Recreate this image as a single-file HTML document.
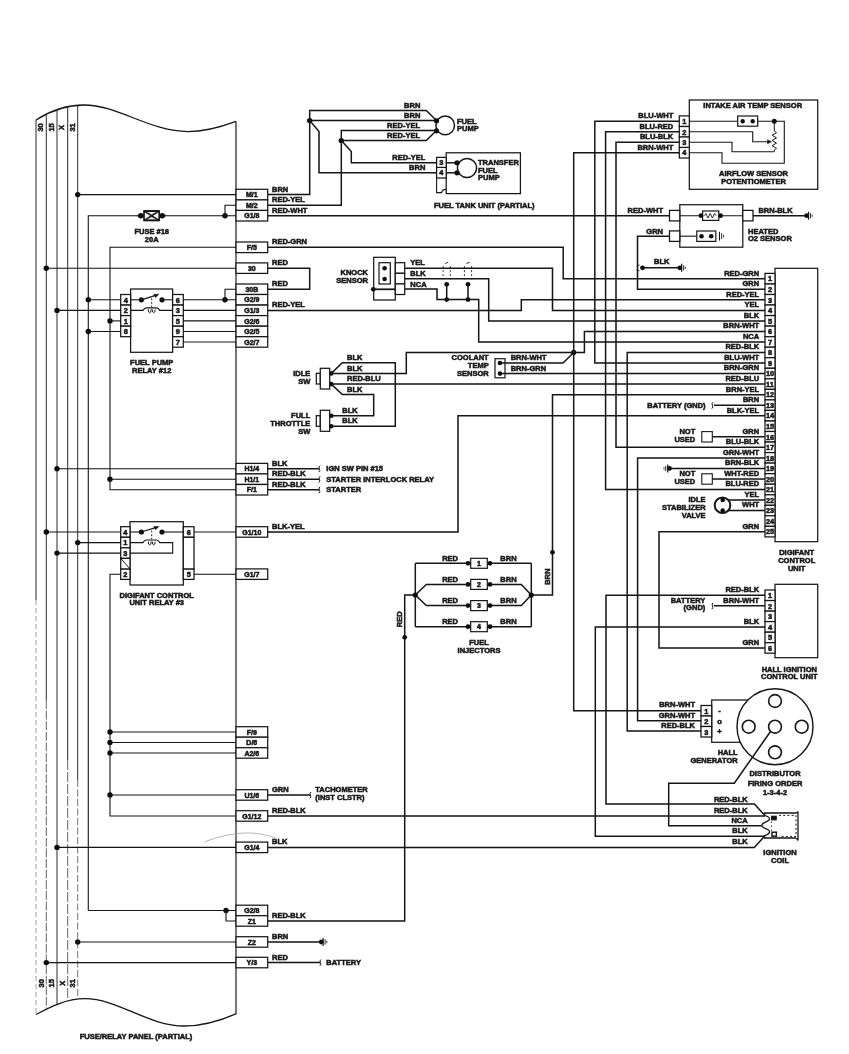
<!DOCTYPE html>
<html><head><meta charset="utf-8"><title>Wiring Diagram</title>
<style>
html,body{margin:0;padding:0;background:#fff;}
body{width:849px;height:1054px;overflow:hidden;}
svg{display:block;}
svg *{vector-effect:none;}
.d{stroke:#161616;fill:none;stroke-linejoin:miter;stroke-linecap:butt;}
.d text{font-family:"Liberation Sans",sans-serif;font-weight:bold;fill:#161616;stroke:#161616;stroke-width:0.5;}
.d .bus{stroke:#2a2a2a;}
</style></head><body>
<svg width="849" height="1054" viewBox="0 0 849 1054">
<rect width="849" height="1054" fill="#ffffff"/>
<defs><filter id="soft" x="0" y="0" width="849" height="1054" filterUnits="userSpaceOnUse"><feGaussianBlur stdDeviation="0.4"/></filter></defs>
<g class="d" filter="url(#soft)">
<path d="M36,120 C50,111 66,105 84,105 C118,105 150,131.6 188,131.6 C206,131.6 222,126.5 236,121.3" stroke-width="1.3" fill="none"/>
<path d="M36,1014.5 C50,1007 66,998.7 85,998.7 C118,998.7 148,1026 184,1026 C204,1026 222,1020 236.5,1013.6" stroke-width="1.3" fill="none"/>
<polyline points="36.0,120.0 36.0,600.0" stroke-width="1.0" class="bus"/>
<polyline points="36.0,600.0 36.0,1014.5" stroke-width="0.8" stroke="#8a8a8a" stroke-dasharray="5,3"/>
<polyline points="46.3,114.2 46.3,700.0" stroke-width="1.0" class="bus"/>
<polyline points="46.3,700.0 46.3,1009.2" stroke-width="0.9" stroke="#555" stroke-dasharray="9,1.6"/>
<polyline points="57.0,109.6 57.0,1004.4" stroke-width="1.0" class="bus"/>
<polyline points="67.7,106.7 67.7,760.0" stroke-width="1.0" class="bus"/>
<polyline points="67.7,760.0 67.7,1001.0" stroke-width="0.9" stroke="#555" stroke-dasharray="10,2"/>
<polyline points="77.7,105.3 77.7,780.0" stroke-width="1.0" class="bus"/>
<polyline points="77.7,780.0 77.7,999.1" stroke-width="0.9" stroke="#666" stroke-dasharray="7,2.5"/>
<polyline points="236.0,121.3 236.0,1013.8" stroke-width="1.15" />
<text transform="translate(40.6,127.4) rotate(-90) scale(1.06,1)" x="0" y="2.6" text-anchor="middle" font-size="7.1px">30</text>
<text transform="translate(41.0,983.2) rotate(-90) scale(1.06,1)" x="0" y="2.6" text-anchor="middle" font-size="7.1px">30</text>
<text transform="translate(50.9,127.4) rotate(-90) scale(1.06,1)" x="0" y="2.6" text-anchor="middle" font-size="7.1px">15</text>
<text transform="translate(51.3,983.2) rotate(-90) scale(1.06,1)" x="0" y="2.6" text-anchor="middle" font-size="7.1px">15</text>
<text transform="translate(61.6,127.4) rotate(-90) scale(1.06,1)" x="0" y="2.6" text-anchor="middle" font-size="7.1px">X</text>
<text transform="translate(62.0,983.2) rotate(-90) scale(1.06,1)" x="0" y="2.6" text-anchor="middle" font-size="7.1px">X</text>
<text transform="translate(72.0,127.4) rotate(-90) scale(1.06,1)" x="0" y="2.6" text-anchor="middle" font-size="7.1px">31</text>
<text transform="translate(72.4,983.2) rotate(-90) scale(1.06,1)" x="0" y="2.6" text-anchor="middle" font-size="7.1px">31</text>
<text transform="translate(136.0,1038.6) scale(1.06,1)" text-anchor="middle" font-size="7.1px">FUSE/RELAY PANEL (PARTIAL)</text>
<rect x="236.0" y="189.3" width="31.7" height="10.6" stroke-width="1.25" fill="#fff"/>
<text transform="translate(251.8,197.2) scale(1.06,1)" text-anchor="middle" font-size="6.6px">M/1</text>
<rect x="236.0" y="199.9" width="31.7" height="10.6" stroke-width="1.25" fill="#fff"/>
<text transform="translate(251.8,207.8) scale(1.06,1)" text-anchor="middle" font-size="6.6px">M/2</text>
<rect x="236.0" y="210.4" width="31.7" height="10.6" stroke-width="1.25" fill="#fff"/>
<text transform="translate(251.8,218.3) scale(1.06,1)" text-anchor="middle" font-size="6.6px">G1/8</text>
<rect x="236.0" y="242.0" width="31.7" height="10.6" stroke-width="1.25" fill="#fff"/>
<text transform="translate(251.8,249.9) scale(1.06,1)" text-anchor="middle" font-size="6.6px">F/5</text>
<rect x="236.0" y="262.9" width="31.7" height="10.5" stroke-width="1.25" fill="#fff"/>
<text transform="translate(251.8,270.8) scale(1.06,1)" text-anchor="middle" font-size="6.6px">30</text>
<rect x="236.0" y="284.0" width="31.7" height="10.5" stroke-width="1.25" fill="#fff"/>
<text transform="translate(251.8,291.9) scale(1.06,1)" text-anchor="middle" font-size="6.6px">30B</text>
<rect x="236.0" y="294.5" width="31.7" height="10.5" stroke-width="1.25" fill="#fff"/>
<text transform="translate(251.8,302.4) scale(1.06,1)" text-anchor="middle" font-size="6.6px">G2/9</text>
<rect x="236.0" y="305.1" width="31.7" height="10.5" stroke-width="1.25" fill="#fff"/>
<text transform="translate(251.8,313.0) scale(1.06,1)" text-anchor="middle" font-size="6.6px">G1/3</text>
<rect x="236.0" y="315.6" width="31.7" height="10.5" stroke-width="1.25" fill="#fff"/>
<text transform="translate(251.8,323.5) scale(1.06,1)" text-anchor="middle" font-size="6.6px">G2/6</text>
<rect x="236.0" y="326.2" width="31.7" height="10.5" stroke-width="1.25" fill="#fff"/>
<text transform="translate(251.8,334.1) scale(1.06,1)" text-anchor="middle" font-size="6.6px">G2/5</text>
<rect x="236.0" y="336.7" width="31.7" height="10.5" stroke-width="1.25" fill="#fff"/>
<text transform="translate(251.8,344.6) scale(1.06,1)" text-anchor="middle" font-size="6.6px">G2/7</text>
<rect x="236.0" y="463.4" width="31.7" height="10.5" stroke-width="1.25" fill="#fff"/>
<text transform="translate(251.8,471.3) scale(1.06,1)" text-anchor="middle" font-size="6.6px">H1/4</text>
<rect x="236.0" y="473.9" width="31.7" height="10.5" stroke-width="1.25" fill="#fff"/>
<text transform="translate(251.8,481.8) scale(1.06,1)" text-anchor="middle" font-size="6.6px">H1/1</text>
<rect x="236.0" y="484.5" width="31.7" height="10.5" stroke-width="1.25" fill="#fff"/>
<text transform="translate(251.8,492.4) scale(1.06,1)" text-anchor="middle" font-size="6.6px">F/1</text>
<rect x="236.0" y="526.7" width="31.7" height="10.5" stroke-width="1.25" fill="#fff"/>
<text transform="translate(251.8,534.6) scale(1.06,1)" text-anchor="middle" font-size="6.6px">G1/10</text>
<rect x="236.0" y="568.9" width="31.7" height="10.5" stroke-width="1.25" fill="#fff"/>
<text transform="translate(251.8,576.8) scale(1.06,1)" text-anchor="middle" font-size="6.6px">G1/7</text>
<rect x="236.0" y="726.7" width="31.7" height="10.5" stroke-width="1.25" fill="#fff"/>
<text transform="translate(251.8,734.6) scale(1.06,1)" text-anchor="middle" font-size="6.6px">F/9</text>
<rect x="236.0" y="737.2" width="31.7" height="10.5" stroke-width="1.25" fill="#fff"/>
<text transform="translate(251.8,745.1) scale(1.06,1)" text-anchor="middle" font-size="6.6px">D/6</text>
<rect x="236.0" y="747.7" width="31.7" height="10.5" stroke-width="1.25" fill="#fff"/>
<text transform="translate(251.8,755.6) scale(1.06,1)" text-anchor="middle" font-size="6.6px">A2/6</text>
<rect x="236.0" y="789.7" width="31.7" height="10.5" stroke-width="1.25" fill="#fff"/>
<text transform="translate(251.8,797.6) scale(1.06,1)" text-anchor="middle" font-size="6.6px">U1/6</text>
<rect x="236.0" y="810.7" width="31.7" height="10.5" stroke-width="1.25" fill="#fff"/>
<text transform="translate(251.8,818.6) scale(1.06,1)" text-anchor="middle" font-size="6.6px">G1/12</text>
<rect x="236.0" y="842.1" width="31.7" height="10.5" stroke-width="1.25" fill="#fff"/>
<text transform="translate(251.8,850.0) scale(1.06,1)" text-anchor="middle" font-size="6.6px">G1/4</text>
<rect x="236.0" y="905.2" width="31.7" height="10.5" stroke-width="1.25" fill="#fff"/>
<text transform="translate(251.8,913.1) scale(1.06,1)" text-anchor="middle" font-size="6.6px">G2/8</text>
<rect x="236.0" y="915.7" width="31.7" height="10.5" stroke-width="1.25" fill="#fff"/>
<text transform="translate(251.8,923.6) scale(1.06,1)" text-anchor="middle" font-size="6.6px">Z1</text>
<rect x="236.0" y="936.7" width="31.7" height="10.5" stroke-width="1.25" fill="#fff"/>
<text transform="translate(251.8,944.6) scale(1.06,1)" text-anchor="middle" font-size="6.6px">Z2</text>
<rect x="236.0" y="957.3" width="31.7" height="10.5" stroke-width="1.25" fill="#fff"/>
<text transform="translate(251.8,965.2) scale(1.06,1)" text-anchor="middle" font-size="6.6px">Y/3</text>
<polyline points="77.7,194.6 236.0,194.6" stroke-width="1.1" />
<circle cx="77.7" cy="194.6" r="2.7" fill="#111" stroke="none"/>
<polyline points="88.3,910.5 88.3,215.7 236.0,215.7" stroke-width="1.1" />
<circle cx="225.0" cy="215.7" r="2.7" fill="#111" stroke="none"/>
<polyline points="225.0,215.7 225.0,205.2 236.0,205.2" stroke-width="1.1" />
<polyline points="137.6,215.7 165.6,215.7" stroke-width="1.8" />
<rect x="144.0" y="211.1" width="15.2" height="9.2" stroke-width="1.7" fill="#fff"/>
<path d="M144.0,211.1 L159.2,220.29999999999998 M144.0,220.29999999999998 L159.2,211.1" stroke-width="1.5" fill="none"/>
<path d="M144.0,211.1 L151.6,214.5 L159.2,211.1 Z M144.0,220.29999999999998 L151.6,216.89999999999998 L159.2,220.29999999999998 Z" stroke-width="0.6" fill="#fff"/>
<polyline points="144.0,211.1 159.2,211.1" stroke-width="1.9" />
<polyline points="144.0,220.3 159.2,220.3" stroke-width="1.9" />
<circle cx="140.8" cy="215.7" r="2.7" fill="#111" stroke="none"/>
<circle cx="162.2" cy="215.7" r="2.7" fill="#111" stroke="none"/>
<text transform="translate(151.7,234.3) scale(1.06,1)" text-anchor="middle" font-size="7.1px">FUSE #18</text>
<text transform="translate(151.7,242.1) scale(1.06,1)" text-anchor="middle" font-size="7.1px">20A</text>
<polyline points="236.0,247.3 110.0,247.3 110.0,489.8 236.0,489.8" stroke-width="1.1" />
<polyline points="46.3,268.2 236.0,268.2" stroke-width="1.1" />
<circle cx="46.3" cy="268.2" r="2.7" fill="#111" stroke="none"/>
<rect x="130.6" y="289.0" width="42.0" height="63.3" stroke-width="1.25" fill="#fff"/>
<rect x="120.7" y="294.5" width="9.9" height="10.5" stroke-width="1.25" fill="#fff"/>
<text transform="translate(125.7,302.5) scale(1.06,1)" text-anchor="middle" font-size="7.0px">4</text>
<rect x="120.7" y="305.1" width="9.9" height="10.5" stroke-width="1.25" fill="#fff"/>
<text transform="translate(125.7,313.1) scale(1.06,1)" text-anchor="middle" font-size="7.0px">2</text>
<rect x="120.7" y="315.6" width="9.9" height="10.5" stroke-width="1.25" fill="#fff"/>
<text transform="translate(125.7,323.6) scale(1.06,1)" text-anchor="middle" font-size="7.0px">1</text>
<rect x="120.7" y="326.2" width="9.9" height="10.5" stroke-width="1.25" fill="#fff"/>
<text transform="translate(125.7,334.2) scale(1.06,1)" text-anchor="middle" font-size="7.0px">8</text>
<rect x="172.6" y="294.5" width="10.7" height="10.5" stroke-width="1.25" fill="#fff"/>
<text transform="translate(177.9,302.5) scale(1.06,1)" text-anchor="middle" font-size="7.0px">6</text>
<rect x="172.6" y="305.1" width="10.7" height="10.5" stroke-width="1.25" fill="#fff"/>
<text transform="translate(177.9,313.1) scale(1.06,1)" text-anchor="middle" font-size="7.0px">3</text>
<rect x="172.6" y="315.6" width="10.7" height="10.5" stroke-width="1.25" fill="#fff"/>
<text transform="translate(177.9,323.6) scale(1.06,1)" text-anchor="middle" font-size="7.0px">5</text>
<rect x="172.6" y="326.2" width="10.7" height="10.5" stroke-width="1.25" fill="#fff"/>
<text transform="translate(177.9,334.2) scale(1.06,1)" text-anchor="middle" font-size="7.0px">9</text>
<rect x="172.6" y="336.7" width="10.7" height="10.5" stroke-width="1.25" fill="#fff"/>
<text transform="translate(177.9,344.7) scale(1.06,1)" text-anchor="middle" font-size="7.0px">7</text>
<polyline points="88.3,299.8 120.7,299.8" stroke-width="1.1" />
<circle cx="88.3" cy="299.8" r="2.7" fill="#111" stroke="none"/>
<polyline points="57.0,310.4 120.7,310.4" stroke-width="1.1" />
<circle cx="57.0" cy="310.4" r="2.7" fill="#111" stroke="none"/>
<polyline points="110.0,320.9 120.7,320.9" stroke-width="1.1" />
<circle cx="110.0" cy="320.9" r="2.7" fill="#111" stroke="none"/>
<polyline points="88.3,331.5 120.7,331.5" stroke-width="1.1" />
<circle cx="88.3" cy="331.5" r="2.7" fill="#111" stroke="none"/>
<polyline points="183.3,299.8 236.0,299.8" stroke-width="1.1" />
<circle cx="225.0" cy="299.8" r="2.7" fill="#111" stroke="none"/>
<polyline points="225.0,299.8 225.0,289.3 236.0,289.3" stroke-width="1.1" />
<polyline points="183.3,310.4 236.0,310.4" stroke-width="1.1" />
<polyline points="183.3,320.9 236.0,320.9" stroke-width="1.1" />
<polyline points="183.3,331.5 236.0,331.5" stroke-width="1.1" />
<polyline points="183.3,342.0 236.0,342.0" stroke-width="1.1" />
<polyline points="130.6,299.8 141.4,299.8" stroke-width="1.1" />
<circle cx="141.4" cy="299.8" r="2.6" fill="#111" stroke="none"/>
<circle cx="162.0" cy="299.8" r="2.6" fill="#111" stroke="none"/>
<polyline points="162.0,299.8 172.6,299.8" stroke-width="1.1" />
<polyline points="141.4,299.8 155.5,295.4" stroke-width="1.3" />
<path d="M158.8,294.2 l-5,0.2 l1.8,3.2 z" stroke-width="0.6" fill="#111"/>
<polyline points="151.7,298.3 151.7,307.3" stroke-width="0.9" stroke-dasharray="2,1.6"/>
<path d="M130.6,310.4 L143,310.4 Q144.6,307.79999999999995 146.2,307.79999999999995 L156.6,307.79999999999995 Q158.2,307.79999999999995 159.8,310.4 L172.6,310.4" stroke-width="1.2" fill="none"/>
<path d="M148.2,309.4 q0.2,3.4 1.5,3.4 q1.3,0 1.5,-3.4 M152.2,309.4 q0.2,3.4 1.5,3.4 q1.3,0 1.5,-3.4" stroke-width="1.0" fill="none"/>
<text transform="translate(151.7,365.1) scale(1.06,1)" text-anchor="middle" font-size="7.1px">FUEL PUMP</text>
<text transform="translate(151.7,372.9) scale(1.06,1)" text-anchor="middle" font-size="7.1px">RELAY #12</text>
<polyline points="57.0,468.7 236.0,468.7" stroke-width="1.1" />
<circle cx="57.0" cy="468.7" r="2.7" fill="#111" stroke="none"/>
<polyline points="110.0,479.2 236.0,479.2" stroke-width="1.1" />
<circle cx="110.0" cy="479.2" r="2.7" fill="#111" stroke="none"/>
<rect x="130.0" y="521.7" width="53.3" height="63.3" stroke-width="1.25" fill="#fff"/>
<rect x="120.7" y="526.7" width="9.3" height="10.5" stroke-width="1.25" fill="#fff"/>
<text transform="translate(125.3,534.7) scale(1.06,1)" text-anchor="middle" font-size="7.0px">4</text>
<rect x="120.7" y="537.3" width="9.3" height="10.5" stroke-width="1.25" fill="#fff"/>
<text transform="translate(125.3,545.3) scale(1.06,1)" text-anchor="middle" font-size="7.0px">1</text>
<rect x="120.7" y="547.8" width="9.3" height="10.5" stroke-width="1.25" fill="#fff"/>
<text transform="translate(125.3,555.8) scale(1.06,1)" text-anchor="middle" font-size="7.0px">3</text>
<rect x="120.7" y="568.9" width="9.3" height="10.5" stroke-width="1.25" fill="#fff"/>
<text transform="translate(125.3,576.9) scale(1.06,1)" text-anchor="middle" font-size="7.0px">2</text>
<rect x="120.7" y="558.4" width="9.3" height="10.5" stroke-width="1.25" fill="#fff"/>
<polyline points="120.7,558.4 130.0,568.9" stroke-width="1.0" />
<rect x="183.3" y="526.7" width="10.7" height="10.5" stroke-width="1.25" fill="#fff"/>
<text transform="translate(188.7,534.7) scale(1.06,1)" text-anchor="middle" font-size="7.0px">6</text>
<rect x="183.3" y="568.9" width="10.7" height="10.5" stroke-width="1.25" fill="#fff"/>
<text transform="translate(188.7,576.9) scale(1.06,1)" text-anchor="middle" font-size="7.0px">5</text>
<rect x="183.3" y="537.3" width="10.7" height="31.6" stroke-width="1.25" fill="#fff"/>
<polyline points="46.3,532.0 120.7,532.0" stroke-width="1.1" />
<circle cx="46.3" cy="532.0" r="2.7" fill="#111" stroke="none"/>
<polyline points="77.7,542.6 120.7,542.6" stroke-width="1.1" />
<circle cx="77.7" cy="542.6" r="2.7" fill="#111" stroke="none"/>
<polyline points="57.0,553.1 120.7,553.1" stroke-width="1.1" />
<circle cx="57.0" cy="553.1" r="2.7" fill="#111" stroke="none"/>
<polyline points="120.7,574.2 110.0,574.2 110.0,816.0 236.0,816.0" stroke-width="1.1" />
<polyline points="194.0,532.0 236.0,532.0" stroke-width="1.1" />
<polyline points="194.0,574.2 236.0,574.2" stroke-width="1.1" />
<polyline points="130.0,532.0 141.4,532.0" stroke-width="1.1" />
<circle cx="141.4" cy="532.0" r="2.6" fill="#111" stroke="none"/>
<circle cx="162.0" cy="532.0" r="2.6" fill="#111" stroke="none"/>
<polyline points="162.0,532.0 183.3,532.0" stroke-width="1.1" />
<polyline points="141.4,532.0 155.5,527.6" stroke-width="1.3" />
<path d="M158.8,526.4 l-5,0.2 l1.8,3.2 z" stroke-width="0.6" fill="#111"/>
<polyline points="151.7,530.5 151.7,539.5" stroke-width="0.9" stroke-dasharray="2,1.6"/>
<path d="M130,542.6 L143,542.6 Q144.6,540.0 146.2,540.0 L156.6,540.0 Q158.2,540.0 159.8,542.6 L172.7,542.6" stroke-width="1.2" fill="none"/>
<path d="M148.2,541.6 q0.2,3.4 1.5,3.4 q1.3,0 1.5,-3.4 M152.2,541.6 q0.2,3.4 1.5,3.4 q1.3,0 1.5,-3.4" stroke-width="1.0" fill="none"/>
<polyline points="172.0,542.6 172.7,542.6 172.7,553.1 130.0,553.1" stroke-width="1.1" />
<text transform="translate(156.7,597.6) scale(1.06,1)" text-anchor="middle" font-size="7.1px">DIGIFANT CONTROL</text>
<text transform="translate(156.7,605.4) scale(1.06,1)" text-anchor="middle" font-size="7.1px">UNIT RELAY #3</text>
<polyline points="110.0,732.0 236.0,732.0" stroke-width="1.1" />
<circle cx="110.0" cy="732.0" r="2.7" fill="#111" stroke="none"/>
<polyline points="110.0,742.5 236.0,742.5" stroke-width="1.1" />
<circle cx="110.0" cy="742.5" r="2.7" fill="#111" stroke="none"/>
<polyline points="110.0,753.0 236.0,753.0" stroke-width="1.1" />
<circle cx="110.0" cy="753.0" r="2.7" fill="#111" stroke="none"/>
<polyline points="110.0,795.0 236.0,795.0" stroke-width="1.1" />
<circle cx="110.0" cy="795.0" r="2.7" fill="#111" stroke="none"/>
<polyline points="57.0,847.4 236.0,847.4" stroke-width="1.1" />
<circle cx="57.0" cy="847.4" r="2.7" fill="#111" stroke="none"/>
<polyline points="88.3,910.5 236.0,910.5" stroke-width="1.1" />
<circle cx="226.0" cy="910.5" r="2.7" fill="#111" stroke="none"/>
<polyline points="226.0,910.5 226.0,921.0 236.0,921.0" stroke-width="1.1" />
<polyline points="77.7,942.0 236.0,942.0" stroke-width="1.1" />
<circle cx="77.7" cy="942.0" r="2.7" fill="#111" stroke="none"/>
<polyline points="46.3,962.6 236.0,962.6" stroke-width="1.1" />
<circle cx="46.3" cy="962.6" r="2.7" fill="#111" stroke="none"/>
<path d="M205,841.7 Q246,826 277,838.5" stroke="#999" stroke-width="0.7" fill="none"/>
<text transform="translate(272.0,191.6) scale(1.06,1)" text-anchor="start" font-size="7.1px">BRN</text>
<text transform="translate(272.0,202.2) scale(1.06,1)" text-anchor="start" font-size="7.1px">RED-YEL</text>
<text transform="translate(272.0,212.7) scale(1.06,1)" text-anchor="start" font-size="7.1px">RED-WHT</text>
<text transform="translate(272.0,244.3) scale(1.06,1)" text-anchor="start" font-size="7.1px">RED-GRN</text>
<text transform="translate(272.0,265.2) scale(1.06,1)" text-anchor="start" font-size="7.1px">RED</text>
<text transform="translate(272.0,286.3) scale(1.06,1)" text-anchor="start" font-size="7.1px">RED</text>
<text transform="translate(272.0,307.4) scale(1.06,1)" text-anchor="start" font-size="7.1px">RED-YEL</text>
<text transform="translate(272.0,465.7) scale(1.06,1)" text-anchor="start" font-size="7.1px">BLK</text>
<text transform="translate(272.0,476.2) scale(1.06,1)" text-anchor="start" font-size="7.1px">RED-BLK</text>
<text transform="translate(272.0,486.8) scale(1.06,1)" text-anchor="start" font-size="7.1px">RED-BLK</text>
<text transform="translate(272.0,529.0) scale(1.06,1)" text-anchor="start" font-size="7.1px">BLK-YEL</text>
<text transform="translate(272.0,792.0) scale(1.06,1)" text-anchor="start" font-size="7.1px">GRN</text>
<text transform="translate(272.0,813.0) scale(1.06,1)" text-anchor="start" font-size="7.1px">RED-BLK</text>
<text transform="translate(272.0,844.4) scale(1.06,1)" text-anchor="start" font-size="7.1px">BLK</text>
<text transform="translate(272.0,918.0) scale(1.06,1)" text-anchor="start" font-size="7.1px">RED-BLK</text>
<text transform="translate(272.0,939.0) scale(1.06,1)" text-anchor="start" font-size="7.1px">BRN</text>
<text transform="translate(272.0,959.6) scale(1.06,1)" text-anchor="start" font-size="7.1px">RED</text>
<polyline points="267.7,194.6 309.7,194.6 309.7,110.5 426.3,110.5 436.0,120.0" stroke-width="1.5" />
<polyline points="309.7,120.6 436.0,120.6" stroke-width="1.5" />
<circle cx="309.7" cy="120.6" r="2.7" fill="#111" stroke="none"/>
<polyline points="309.7,120.6 319.0,131.5 319.0,172.8 437.0,172.8" stroke-width="1.5" />
<polyline points="267.7,205.2 341.3,205.2 341.3,130.5 436.0,130.5" stroke-width="1.5" />
<polyline points="341.3,140.6 426.3,140.6 436.0,131.0" stroke-width="1.5" />
<circle cx="341.3" cy="140.6" r="2.7" fill="#111" stroke="none"/>
<polyline points="341.3,140.6 351.3,151.5 351.3,162.8 437.0,162.8" stroke-width="1.5" />
<circle cx="445.2" cy="125.4" r="9.3" stroke-width="1.5" fill="#fff"/>
<circle cx="436.5" cy="120.8" r="2.6" fill="#111" stroke="none"/>
<circle cx="436.5" cy="130.8" r="2.6" fill="#111" stroke="none"/>
<text transform="translate(457.0,123.6) scale(1.06,1)" text-anchor="start" font-size="7.1px">FUEL</text>
<text transform="translate(457.0,131.1) scale(1.06,1)" text-anchor="start" font-size="7.1px">PUMP</text>
<text transform="translate(420.3,107.8) scale(1.06,1)" text-anchor="end" font-size="7.1px">BRN</text>
<text transform="translate(420.3,117.9) scale(1.06,1)" text-anchor="end" font-size="7.1px">BRN</text>
<text transform="translate(420.0,128.0) scale(1.06,1)" text-anchor="end" font-size="7.1px">RED-YEL</text>
<text transform="translate(420.0,138.2) scale(1.06,1)" text-anchor="end" font-size="7.1px">RED-YEL</text>
<text transform="translate(425.3,160.0) scale(1.06,1)" text-anchor="end" font-size="7.1px">RED-YEL</text>
<text transform="translate(425.3,170.4) scale(1.06,1)" text-anchor="end" font-size="7.1px">BRN</text>
<rect x="446.2" y="152.8" width="74.2" height="40.8" stroke-width="1.25" fill="#fff"/>
<rect x="436.6" y="157.4" width="9.6" height="10.6" stroke-width="1.25" fill="#fff"/>
<text transform="translate(441.4,165.4) scale(1.06,1)" text-anchor="middle" font-size="7.0px">3</text>
<rect x="436.6" y="167.4" width="9.6" height="10.6" stroke-width="1.25" fill="#fff"/>
<text transform="translate(441.4,175.4) scale(1.06,1)" text-anchor="middle" font-size="7.0px">4</text>
<path d="M436.6,178 L436.6,192.6 L441.6,192.6 Q442.2,189 446.2,189.4" stroke-width="1.1" fill="#fff"/>
<circle cx="467.0" cy="168.0" r="9.6" stroke-width="1.5" fill="#fff"/>
<polyline points="446.2,162.8 457.0,162.8" stroke-width="1.5" />
<polyline points="446.2,172.8 457.0,172.8" stroke-width="1.5" />
<circle cx="457.0" cy="162.8" r="2.6" fill="#111" stroke="none"/>
<circle cx="457.0" cy="172.8" r="2.6" fill="#111" stroke="none"/>
<text transform="translate(478.0,165.3) scale(1.06,1)" text-anchor="start" font-size="7.1px">TRANSFER</text>
<text transform="translate(478.0,172.8) scale(1.06,1)" text-anchor="start" font-size="7.1px">FUEL</text>
<text transform="translate(478.0,180.4) scale(1.06,1)" text-anchor="start" font-size="7.1px">PUMP</text>
<text transform="translate(434.0,207.6) scale(1.06,1)" text-anchor="start" font-size="7.1px">FUEL TANK UNIT (PARTIAL)</text>
<polyline points="267.7,215.7 669.5,215.7" stroke-width="1.5" />
<polyline points="267.7,247.3 563.2,247.3 563.2,278.7 765.0,278.7" stroke-width="1.5" />
<polyline points="267.7,268.2 309.7,268.2 309.7,289.3 267.7,289.3" stroke-width="1.5" />
<polyline points="267.7,310.4 521.3,310.4 521.3,299.7 765.0,299.7" stroke-width="1.5" />
<rect x="373.7" y="257.3" width="21.6" height="32.2" stroke-width="1.25" fill="#fff"/>
<rect x="373.7" y="289.5" width="21.6" height="10.5" stroke-width="1.25" fill="#fff"/>
<rect x="379.0" y="262.7" width="11.3" height="21.3" stroke-width="1.2" fill="#fff"/>
<circle cx="384.6" cy="268.3" r="2.3" fill="#111" stroke="none"/>
<circle cx="384.6" cy="279.0" r="2.3" fill="#111" stroke="none"/>
<rect x="395.3" y="262.7" width="9.4" height="10.6" stroke-width="1.25" fill="#fff"/>
<rect x="395.3" y="273.3" width="9.4" height="10.6" stroke-width="1.25" fill="#fff"/>
<rect x="395.3" y="283.9" width="9.4" height="10.6" stroke-width="1.25" fill="#fff"/>
<circle cx="373.3" cy="289.3" r="2.4" fill="#111" stroke="none"/>
<polyline points="373.3,289.3 395.3,289.3" stroke-width="1.5" />
<text transform="translate(368.0,275.3) scale(1.06,1)" text-anchor="end" font-size="7.1px">KNOCK</text>
<text transform="translate(368.0,283.2) scale(1.06,1)" text-anchor="end" font-size="7.1px">SENSOR</text>
<text transform="translate(410.3,265.3) scale(1.06,1)" text-anchor="start" font-size="7.1px">YEL</text>
<text transform="translate(410.3,275.9) scale(1.06,1)" text-anchor="start" font-size="7.1px">BLK</text>
<text transform="translate(410.3,286.6) scale(1.06,1)" text-anchor="start" font-size="7.1px">NCA</text>
<polyline points="404.7,268.2 552.5,268.2 552.5,310.4 765.0,310.4" stroke-width="1.5" />
<polyline points="404.7,278.7 488.7,278.7 488.7,321.0 765.0,321.0" stroke-width="1.5" />
<polyline points="404.7,289.0 437.0,289.0 437.0,299.6 478.7,299.6 478.7,342.0 765.0,342.0" stroke-width="1.5" />
<circle cx="446.7" cy="284.3" r="2.4" fill="#111" stroke="none"/>
<circle cx="446.7" cy="299.6" r="2.4" fill="#111" stroke="none"/>
<polyline points="446.7,284.3 446.7,299.6" stroke-width="1.5" />
<polyline points="443.1,266.0 443.1,279.5" stroke-width="0.8" stroke-dasharray="2.2,1.8"/>
<polyline points="450.3,266.0 450.3,279.5" stroke-width="0.8" stroke-dasharray="2.2,1.8"/>
<polyline points="445.2,263.5 448.2,262.3" stroke-width="0.9" />
<circle cx="468.0" cy="284.3" r="2.4" fill="#111" stroke="none"/>
<circle cx="468.0" cy="299.6" r="2.4" fill="#111" stroke="none"/>
<polyline points="468.0,284.3 468.0,299.6" stroke-width="1.5" />
<polyline points="464.4,266.0 464.4,279.5" stroke-width="0.8" stroke-dasharray="2.2,1.8"/>
<polyline points="471.6,266.0 471.6,279.5" stroke-width="0.8" stroke-dasharray="2.2,1.8"/>
<polyline points="466.5,263.5 469.5,262.3" stroke-width="0.9" />
<rect x="316.3" y="373.3" width="4.0" height="10.7" stroke-width="1.25" fill="#fff"/>
<rect x="320.3" y="368.3" width="9.4" height="20.7" stroke-width="1.25" fill="#fff"/>
<rect x="316.3" y="415.7" width="4.0" height="10.6" stroke-width="1.25" fill="#fff"/>
<rect x="320.3" y="410.3" width="9.4" height="21.0" stroke-width="1.25" fill="#fff"/>
<text transform="translate(310.3,376.1) scale(1.06,1)" text-anchor="end" font-size="7.1px">IDLE</text>
<text transform="translate(310.3,383.8) scale(1.06,1)" text-anchor="end" font-size="7.1px">SW</text>
<text transform="translate(310.3,418.3) scale(1.06,1)" text-anchor="end" font-size="7.1px">FULL</text>
<text transform="translate(310.3,426.0) scale(1.06,1)" text-anchor="end" font-size="7.1px">THROTTLE</text>
<text transform="translate(310.3,433.8) scale(1.06,1)" text-anchor="end" font-size="7.1px">SW</text>
<circle cx="331.3" cy="373.4" r="2.3" fill="#111" stroke="none"/>
<circle cx="331.3" cy="384.1" r="2.3" fill="#111" stroke="none"/>
<circle cx="331.3" cy="415.7" r="2.3" fill="#111" stroke="none"/>
<circle cx="331.3" cy="426.2" r="2.3" fill="#111" stroke="none"/>
<polyline points="331.3,373.4 342.3,362.8 395.3,362.8 395.3,426.2 331.3,426.2" stroke-width="1.5" />
<polyline points="331.3,373.4 406.3,373.4 406.3,352.4 573.7,352.4" stroke-width="1.5" />
<polyline points="331.3,384.1 765.0,384.1" stroke-width="1.5" />
<polyline points="331.3,384.1 342.3,394.5 373.7,394.5 373.7,415.7 331.3,415.7" stroke-width="1.5" />
<text transform="translate(347.0,360.3) scale(1.06,1)" text-anchor="start" font-size="7.1px">BLK</text>
<text transform="translate(347.0,370.9) scale(1.06,1)" text-anchor="start" font-size="7.1px">BLK</text>
<text transform="translate(347.0,381.2) scale(1.06,1)" text-anchor="start" font-size="7.1px">RED-BLU</text>
<text transform="translate(347.0,391.8) scale(1.06,1)" text-anchor="start" font-size="7.1px">BLK</text>
<text transform="translate(342.3,412.8) scale(1.06,1)" text-anchor="start" font-size="7.1px">BLK</text>
<text transform="translate(342.3,423.4) scale(1.06,1)" text-anchor="start" font-size="7.1px">BLK</text>
<rect x="495.0" y="358.7" width="10.0" height="19.1" stroke-width="1.2" fill="#fff"/>
<circle cx="500.0" cy="363.0" r="2.3" fill="#111" stroke="none"/>
<circle cx="500.0" cy="373.6" r="2.3" fill="#111" stroke="none"/>
<text transform="translate(488.7,360.1) scale(1.06,1)" text-anchor="end" font-size="7.1px">COOLANT</text>
<text transform="translate(488.7,367.9) scale(1.06,1)" text-anchor="end" font-size="7.1px">TEMP</text>
<text transform="translate(488.7,375.8) scale(1.06,1)" text-anchor="end" font-size="7.1px">SENSOR</text>
<text transform="translate(510.7,360.1) scale(1.06,1)" text-anchor="start" font-size="7.1px">BRN-WHT</text>
<text transform="translate(510.7,371.2) scale(1.06,1)" text-anchor="start" font-size="7.1px">BRN-GRN</text>
<polyline points="500.0,363.0 563.0,363.0 573.7,352.4 584.4,352.4 584.4,331.5 765.0,331.5" stroke-width="1.5" />
<circle cx="573.7" cy="352.4" r="2.6" fill="#111" stroke="none"/>
<polyline points="500.0,373.6 765.0,373.6" stroke-width="1.5" />
<polyline points="267.7,468.7 319.0,468.7" stroke-width="1.5" />
<path d="M320.0,465.7 q-1.6,1 -0.6,3 q1.2,2 -0.6,3.4" stroke-width="1.0" fill="none"/>
<text transform="translate(326.3,471.3) scale(1.06,1)" text-anchor="start" font-size="7.1px">IGN SW PIN #15</text>
<polyline points="267.7,479.2 319.0,479.2" stroke-width="1.5" />
<path d="M320.0,476.2 q-1.6,1 -0.6,3 q1.2,2 -0.6,3.4" stroke-width="1.0" fill="none"/>
<text transform="translate(326.3,481.8) scale(1.06,1)" text-anchor="start" font-size="7.1px">STARTER INTERLOCK RELAY</text>
<polyline points="267.7,489.8 319.0,489.8" stroke-width="1.5" />
<path d="M320.0,486.8 q-1.6,1 -0.6,3 q1.2,2 -0.6,3.4" stroke-width="1.0" fill="none"/>
<text transform="translate(326.3,492.4) scale(1.06,1)" text-anchor="start" font-size="7.1px">STARTER</text>
<polyline points="267.7,532.0 458.0,532.0 458.0,415.7 765.0,415.7" stroke-width="1.5" />
<polyline points="267.7,795.0 310.0,795.0" stroke-width="1.5" />
<path d="M311.0,792.0 q-1.6,1 -0.6,3 q1.2,2 -0.6,3.4" stroke-width="1.0" fill="none"/>
<text transform="translate(315.3,791.8) scale(1.06,1)" text-anchor="start" font-size="7.1px">TACHOMETER</text>
<text transform="translate(315.3,799.5) scale(1.06,1)" text-anchor="start" font-size="7.1px">(INST CLSTR)</text>
<polyline points="267.7,816.0 765.0,816.0" stroke-width="1.5" />
<polyline points="267.7,847.4 754.3,847.4 764.5,836.3" stroke-width="1.5" />
<polyline points="267.7,921.0 404.7,921.0 404.7,595.0 415.3,595.0" stroke-width="1.5" />
<circle cx="404.7" cy="637.3" r="2.4" fill="#111" stroke="none"/>
<text transform="translate(399.5,619.3) rotate(-90) scale(1.06,1)" x="0" y="2.6" text-anchor="middle" font-size="7.1px">RED</text>
<polyline points="267.7,942.0 321.3,942.0" stroke-width="1.5" />
<circle cx="321.3" cy="942.0" r="2.4" fill="#111" stroke="none"/>
<polyline points="323.1,938.0 323.1,946.0" stroke-width="1.2" />
<polyline points="325.1,939.4 325.1,944.6" stroke-width="0.9" />
<polyline points="326.8,940.8 326.8,943.2" stroke-width="0.8" />
<polyline points="267.7,962.6 320.0,962.6" stroke-width="1.5" />
<path d="M321.0,959.6 q-1.6,1 -0.6,3 q1.2,2 -0.6,3.4" stroke-width="1.0" fill="none"/>
<text transform="translate(326.3,965.2) scale(1.06,1)" text-anchor="start" font-size="7.1px">BATTERY</text>
<text transform="translate(458.0,560.6) scale(1.06,1)" text-anchor="end" font-size="7.1px">RED</text>
<text transform="translate(500.3,560.6) scale(1.06,1)" text-anchor="start" font-size="7.1px">BRN</text>
<text transform="translate(458.0,581.7) scale(1.06,1)" text-anchor="end" font-size="7.1px">RED</text>
<text transform="translate(500.3,581.7) scale(1.06,1)" text-anchor="start" font-size="7.1px">BRN</text>
<text transform="translate(458.0,602.9) scale(1.06,1)" text-anchor="end" font-size="7.1px">RED</text>
<text transform="translate(500.3,602.9) scale(1.06,1)" text-anchor="start" font-size="7.1px">BRN</text>
<text transform="translate(458.0,624.0) scale(1.06,1)" text-anchor="end" font-size="7.1px">RED</text>
<text transform="translate(500.3,624.0) scale(1.06,1)" text-anchor="start" font-size="7.1px">BRN</text>
<polyline points="415.3,563.3 415.3,626.7" stroke-width="1.5" />
<polyline points="531.3,563.3 531.3,626.7" stroke-width="1.5" />
<polyline points="415.3,563.3 531.3,563.3" stroke-width="1.5" />
<polyline points="415.3,626.7 531.3,626.7" stroke-width="1.5" />
<polyline points="415.3,595.0 426.3,584.4 521.3,584.4 531.3,595.0 521.3,605.6 426.3,605.6 415.3,595.0" stroke-width="1.5" />
<circle cx="415.3" cy="595.0" r="2.6" fill="#111" stroke="none"/>
<circle cx="531.3" cy="595.0" r="2.6" fill="#111" stroke="none"/>
<circle cx="468.0" cy="563.3" r="2.4" fill="#111" stroke="none"/>
<circle cx="490.0" cy="563.3" r="2.4" fill="#111" stroke="none"/>
<rect x="470.7" y="558.3" width="16.6" height="10.0" stroke-width="1.2" fill="#fff"/>
<text transform="translate(479.0,565.9) scale(1.06,1)" text-anchor="middle" font-size="6.6px">1</text>
<circle cx="468.0" cy="584.4" r="2.4" fill="#111" stroke="none"/>
<circle cx="490.0" cy="584.4" r="2.4" fill="#111" stroke="none"/>
<rect x="470.7" y="579.4" width="16.6" height="10.0" stroke-width="1.2" fill="#fff"/>
<text transform="translate(479.0,587.0) scale(1.06,1)" text-anchor="middle" font-size="6.6px">2</text>
<circle cx="468.0" cy="605.6" r="2.4" fill="#111" stroke="none"/>
<circle cx="490.0" cy="605.6" r="2.4" fill="#111" stroke="none"/>
<rect x="470.7" y="600.6" width="16.6" height="10.0" stroke-width="1.2" fill="#fff"/>
<text transform="translate(479.0,608.2) scale(1.06,1)" text-anchor="middle" font-size="6.6px">3</text>
<circle cx="468.0" cy="626.7" r="2.4" fill="#111" stroke="none"/>
<circle cx="490.0" cy="626.7" r="2.4" fill="#111" stroke="none"/>
<rect x="470.7" y="621.7" width="16.6" height="10.0" stroke-width="1.2" fill="#fff"/>
<text transform="translate(479.0,629.3) scale(1.06,1)" text-anchor="middle" font-size="6.6px">4</text>
<text transform="translate(479.0,644.9) scale(1.06,1)" text-anchor="middle" font-size="7.1px">FUEL</text>
<text transform="translate(479.0,652.6) scale(1.06,1)" text-anchor="middle" font-size="7.1px">INJECTORS</text>
<polyline points="531.3,595.0 552.5,595.0 552.5,394.7 765.0,394.7" stroke-width="1.5" />
<circle cx="552.5" cy="552.3" r="2.4" fill="#111" stroke="none"/>
<text transform="translate(547.3,576.7) rotate(-90) scale(1.06,1)" x="0" y="2.6" text-anchor="middle" font-size="7.1px">BRN</text>
<rect x="689.3" y="100.0" width="128.4" height="89.3" stroke-width="1.25" fill="#fff"/>
<rect x="679.3" y="115.9" width="10.0" height="10.6" stroke-width="1.25" fill="#fff"/>
<text transform="translate(684.3,123.9) scale(1.06,1)" text-anchor="middle" font-size="7.0px">1</text>
<rect x="679.3" y="126.5" width="10.0" height="10.6" stroke-width="1.25" fill="#fff"/>
<text transform="translate(684.3,134.5) scale(1.06,1)" text-anchor="middle" font-size="7.0px">2</text>
<rect x="679.3" y="137.0" width="10.0" height="10.6" stroke-width="1.25" fill="#fff"/>
<text transform="translate(684.3,145.0) scale(1.06,1)" text-anchor="middle" font-size="7.0px">3</text>
<rect x="679.3" y="147.4" width="10.0" height="10.6" stroke-width="1.25" fill="#fff"/>
<text transform="translate(684.3,155.4) scale(1.06,1)" text-anchor="middle" font-size="7.0px">4</text>
<text transform="translate(752.7,107.8) scale(1.06,1)" text-anchor="middle" font-size="7.1px">INTAKE AIR TEMP SENSOR</text>
<text transform="translate(753.5,175.9) scale(1.06,1)" text-anchor="middle" font-size="7.1px">AIRFLOW SENSOR</text>
<text transform="translate(753.5,183.8) scale(1.06,1)" text-anchor="middle" font-size="7.1px">POTENTIOMETER</text>
<polyline points="689.3,121.2 784.3,121.2 784.3,163.3 722.0,163.3 722.0,152.7 689.3,152.7" stroke-width="1.1" />
<rect x="737.7" y="116.0" width="20.0" height="10.2" stroke-width="1.2" fill="#fff"/>
<circle cx="742.7" cy="121.2" r="2.2" fill="#111" stroke="none"/>
<circle cx="752.7" cy="121.2" r="2.2" fill="#111" stroke="none"/>
<circle cx="774.3" cy="121.2" r="2.5" fill="#111" stroke="none"/>
<polyline points="689.3,131.8 752.7,131.8 752.7,141.8 768.0,141.8" stroke-width="1.1" />
<path d="M771.5,141.8 l-4,-2 l0,4 z" stroke-width="0.5" fill="#111"/>
<polyline points="689.3,142.3 732.0,142.3 732.0,151.8 774.3,151.8" stroke-width="1.1" />
<path d="M774.3,121.2 L774.3,131 l2.2,1.7 l-4.4,2.6 l4.4,2.6 l-4.4,2.6 l4.4,2.6 l-4.4,2.6 l4.4,2.6 l-2.2,1.7 L774.3,151.8" stroke-width="1.0" fill="none"/>
<text transform="translate(673.3,117.8) scale(1.06,1)" text-anchor="end" font-size="7.1px">BLU-WHT</text>
<text transform="translate(673.3,128.6) scale(1.06,1)" text-anchor="end" font-size="7.1px">BLU-RED</text>
<text transform="translate(673.3,139.2) scale(1.06,1)" text-anchor="end" font-size="7.1px">BLU-BLK</text>
<text transform="translate(673.3,149.8) scale(1.06,1)" text-anchor="end" font-size="7.1px">BRN-WHT</text>
<polyline points="679.3,152.7 573.7,152.7 573.7,710.8 701.0,710.8" stroke-width="1.5" />
<polyline points="679.3,121.2 594.8,121.2 594.8,363.0 765.0,363.0" stroke-width="1.5" />
<polyline points="679.3,131.8 605.6,131.8 605.6,489.5 765.0,489.5" stroke-width="1.5" />
<polyline points="679.3,142.3 616.0,142.3 616.0,447.3 765.0,447.3" stroke-width="1.5" />
<rect x="679.8" y="204.7" width="63.0" height="42.5" stroke-width="1.25" fill="#fff"/>
<rect x="669.5" y="210.4" width="10.3" height="10.5" stroke-width="1.25" fill="#fff"/>
<rect x="669.5" y="230.9" width="10.3" height="10.5" stroke-width="1.25" fill="#fff"/>
<rect x="742.8" y="210.4" width="10.2" height="10.5" stroke-width="1.25" fill="#fff"/>
<polyline points="679.8,215.7 742.8,215.7" stroke-width="1.1" />
<rect x="702.6" y="211.0" width="16.2" height="9.4" stroke-width="1.2" fill="#fff"/>
<circle cx="701.0" cy="215.7" r="2.4" fill="#111" stroke="none"/>
<circle cx="720.6" cy="215.7" r="2.4" fill="#111" stroke="none"/>
<path d="M704.5,215.7 l1.3,-2.3 l2.2,4.6 l2.2,-4.6 l2.2,4.6 l2.2,-4.6 l1.6,2.3" stroke-width="0.9" fill="none"/>
<polyline points="753.0,215.7 806.7,215.7" stroke-width="1.5" />
<circle cx="806.7" cy="215.7" r="2.4" fill="#111" stroke="none"/>
<polyline points="808.5,211.7 808.5,219.7" stroke-width="1.2" />
<polyline points="810.5,213.1 810.5,218.3" stroke-width="0.9" />
<polyline points="812.2,214.5 812.2,216.9" stroke-width="0.8" />
<polyline points="679.8,236.2 696.8,236.2" stroke-width="1.1" />
<rect x="696.8" y="231.0" width="19.0" height="10.4" stroke-width="1.2" fill="#fff"/>
<circle cx="701.5" cy="236.2" r="2.3" fill="#111" stroke="none"/>
<circle cx="711.2" cy="236.2" r="2.3" fill="#111" stroke="none"/>
<polyline points="719.5,231.8 719.5,240.6" stroke-width="1.1" />
<polyline points="721.7,233.3 721.7,239.1" stroke-width="0.9" />
<polyline points="723.6,234.8 723.6,237.6" stroke-width="0.8" />
<text transform="translate(663.0,213.1) scale(1.06,1)" text-anchor="end" font-size="7.1px">RED-WHT</text>
<text transform="translate(663.0,233.6) scale(1.06,1)" text-anchor="end" font-size="7.1px">GRN</text>
<text transform="translate(758.4,213.1) scale(1.06,1)" text-anchor="start" font-size="7.1px">BRN-BLK</text>
<text transform="translate(748.0,233.6) scale(1.06,1)" text-anchor="start" font-size="7.1px">HEATED</text>
<text transform="translate(748.0,241.2) scale(1.06,1)" text-anchor="start" font-size="7.1px">O2 SENSOR</text>
<polyline points="669.5,236.2 637.5,236.2 637.5,289.2 765.0,289.2" stroke-width="1.5" />
<polyline points="642.5,267.8 679.8,267.8" stroke-width="1.5" />
<circle cx="642.5" cy="267.8" r="2.4" fill="#111" stroke="none"/>
<circle cx="679.8" cy="267.8" r="2.4" fill="#111" stroke="none"/>
<polyline points="681.6,263.8 681.6,271.8" stroke-width="1.2" />
<polyline points="683.6,265.2 683.6,270.4" stroke-width="0.9" />
<polyline points="685.3,266.6 685.3,269.0" stroke-width="0.8" />
<path d="M639.5,265 q-3,0.2 -2.6,1.6 M639.5,270.8 q-3,-0.2 -2.6,-1.6" stroke-width="0.9" fill="none"/>
<text transform="translate(654.0,264.4) scale(1.06,1)" text-anchor="start" font-size="7.1px">BLK</text>
<rect x="775.0" y="268.3" width="42.7" height="273.4" stroke-width="1.25" fill="#fff"/>
<rect x="765.0" y="273.4" width="10.0" height="10.5" stroke-width="1.25" fill="#fff"/>
<text transform="translate(770.0,281.4) scale(1.06,1)" text-anchor="middle" font-size="7.0px">1</text>
<rect x="765.0" y="284.0" width="10.0" height="10.5" stroke-width="1.25" fill="#fff"/>
<text transform="translate(770.0,292.0) scale(1.06,1)" text-anchor="middle" font-size="7.0px">2</text>
<rect x="765.0" y="294.5" width="10.0" height="10.5" stroke-width="1.25" fill="#fff"/>
<text transform="translate(770.0,302.5) scale(1.06,1)" text-anchor="middle" font-size="7.0px">3</text>
<rect x="765.0" y="305.0" width="10.0" height="10.5" stroke-width="1.25" fill="#fff"/>
<text transform="translate(770.0,313.0) scale(1.06,1)" text-anchor="middle" font-size="7.0px">4</text>
<rect x="765.0" y="315.6" width="10.0" height="10.5" stroke-width="1.25" fill="#fff"/>
<text transform="translate(770.0,323.6) scale(1.06,1)" text-anchor="middle" font-size="7.0px">5</text>
<rect x="765.0" y="326.1" width="10.0" height="10.5" stroke-width="1.25" fill="#fff"/>
<text transform="translate(770.0,334.1) scale(1.06,1)" text-anchor="middle" font-size="7.0px">6</text>
<rect x="765.0" y="336.7" width="10.0" height="10.5" stroke-width="1.25" fill="#fff"/>
<text transform="translate(770.0,344.7) scale(1.06,1)" text-anchor="middle" font-size="7.0px">7</text>
<rect x="765.0" y="347.2" width="10.0" height="10.5" stroke-width="1.25" fill="#fff"/>
<text transform="translate(770.0,355.2) scale(1.06,1)" text-anchor="middle" font-size="7.0px">8</text>
<rect x="765.0" y="357.7" width="10.0" height="10.5" stroke-width="1.25" fill="#fff"/>
<text transform="translate(770.0,365.7) scale(1.06,1)" text-anchor="middle" font-size="7.0px">9</text>
<rect x="765.0" y="368.3" width="10.0" height="10.5" stroke-width="1.25" fill="#fff"/>
<text transform="translate(770.0,376.3) scale(1.06,1)" text-anchor="middle" font-size="7.0px">10</text>
<rect x="765.0" y="378.8" width="10.0" height="10.5" stroke-width="1.25" fill="#fff"/>
<text transform="translate(770.0,386.8) scale(1.06,1)" text-anchor="middle" font-size="7.0px">11</text>
<rect x="765.0" y="389.4" width="10.0" height="10.5" stroke-width="1.25" fill="#fff"/>
<text transform="translate(770.0,397.4) scale(1.06,1)" text-anchor="middle" font-size="7.0px">12</text>
<rect x="765.0" y="399.9" width="10.0" height="10.5" stroke-width="1.25" fill="#fff"/>
<text transform="translate(770.0,407.9) scale(1.06,1)" text-anchor="middle" font-size="7.0px">13</text>
<rect x="765.0" y="410.4" width="10.0" height="10.5" stroke-width="1.25" fill="#fff"/>
<text transform="translate(770.0,418.4) scale(1.06,1)" text-anchor="middle" font-size="7.0px">14</text>
<rect x="765.0" y="421.0" width="10.0" height="10.5" stroke-width="1.25" fill="#fff"/>
<text transform="translate(770.0,429.0) scale(1.06,1)" text-anchor="middle" font-size="7.0px">15</text>
<rect x="765.0" y="431.5" width="10.0" height="10.5" stroke-width="1.25" fill="#fff"/>
<text transform="translate(770.0,439.5) scale(1.06,1)" text-anchor="middle" font-size="7.0px">16</text>
<rect x="765.0" y="442.1" width="10.0" height="10.5" stroke-width="1.25" fill="#fff"/>
<text transform="translate(770.0,450.1) scale(1.06,1)" text-anchor="middle" font-size="7.0px">17</text>
<rect x="765.0" y="452.6" width="10.0" height="10.5" stroke-width="1.25" fill="#fff"/>
<text transform="translate(770.0,460.6) scale(1.06,1)" text-anchor="middle" font-size="7.0px">18</text>
<rect x="765.0" y="463.1" width="10.0" height="10.5" stroke-width="1.25" fill="#fff"/>
<text transform="translate(770.0,471.1) scale(1.06,1)" text-anchor="middle" font-size="7.0px">19</text>
<rect x="765.0" y="473.7" width="10.0" height="10.5" stroke-width="1.25" fill="#fff"/>
<text transform="translate(770.0,481.7) scale(1.06,1)" text-anchor="middle" font-size="7.0px">20</text>
<rect x="765.0" y="484.2" width="10.0" height="10.5" stroke-width="1.25" fill="#fff"/>
<text transform="translate(770.0,492.2) scale(1.06,1)" text-anchor="middle" font-size="7.0px">21</text>
<rect x="765.0" y="494.8" width="10.0" height="10.5" stroke-width="1.25" fill="#fff"/>
<text transform="translate(770.0,502.8) scale(1.06,1)" text-anchor="middle" font-size="7.0px">22</text>
<rect x="765.0" y="505.3" width="10.0" height="10.6" stroke-width="1.25" fill="#fff"/>
<text transform="translate(770.0,513.3) scale(1.06,1)" text-anchor="middle" font-size="7.0px">23</text>
<rect x="765.0" y="515.8" width="10.0" height="10.5" stroke-width="1.25" fill="#fff"/>
<text transform="translate(770.0,523.8) scale(1.06,1)" text-anchor="middle" font-size="7.0px">24</text>
<rect x="765.0" y="526.4" width="10.0" height="10.5" stroke-width="1.25" fill="#fff"/>
<text transform="translate(770.0,534.4) scale(1.06,1)" text-anchor="middle" font-size="7.0px">25</text>
<text transform="translate(759.2,275.6) scale(1.06,1)" text-anchor="end" font-size="7.1px">RED-GRN</text>
<text transform="translate(759.2,286.1) scale(1.06,1)" text-anchor="end" font-size="7.1px">GRN</text>
<text transform="translate(759.2,296.6) scale(1.06,1)" text-anchor="end" font-size="7.1px">RED-YEL</text>
<text transform="translate(759.2,307.2) scale(1.06,1)" text-anchor="end" font-size="7.1px">YEL</text>
<text transform="translate(759.2,317.7) scale(1.06,1)" text-anchor="end" font-size="7.1px">BLK</text>
<text transform="translate(759.2,328.3) scale(1.06,1)" text-anchor="end" font-size="7.1px">BRN-WHT</text>
<text transform="translate(759.2,338.8) scale(1.06,1)" text-anchor="end" font-size="7.1px">NCA</text>
<text transform="translate(759.2,349.3) scale(1.06,1)" text-anchor="end" font-size="7.1px">RED-BLK</text>
<text transform="translate(759.2,359.9) scale(1.06,1)" text-anchor="end" font-size="7.1px">BLU-WHT</text>
<text transform="translate(759.2,370.4) scale(1.06,1)" text-anchor="end" font-size="7.1px">BRN-GRN</text>
<text transform="translate(759.2,381.0) scale(1.06,1)" text-anchor="end" font-size="7.1px">RED-BLU</text>
<text transform="translate(759.2,391.5) scale(1.06,1)" text-anchor="end" font-size="7.1px">BRN-YEL</text>
<text transform="translate(759.2,402.0) scale(1.06,1)" text-anchor="end" font-size="7.1px">BRN</text>
<text transform="translate(759.2,412.6) scale(1.06,1)" text-anchor="end" font-size="7.1px">BLK-YEL</text>
<text transform="translate(759.2,433.7) scale(1.06,1)" text-anchor="end" font-size="7.1px">GRN</text>
<text transform="translate(759.2,444.2) scale(1.06,1)" text-anchor="end" font-size="7.1px">BLU-BLK</text>
<text transform="translate(759.2,454.7) scale(1.06,1)" text-anchor="end" font-size="7.1px">GRN-WHT</text>
<text transform="translate(759.2,465.3) scale(1.06,1)" text-anchor="end" font-size="7.1px">BRN-BLK</text>
<text transform="translate(759.2,475.8) scale(1.06,1)" text-anchor="end" font-size="7.1px">WHT-RED</text>
<text transform="translate(759.2,486.4) scale(1.06,1)" text-anchor="end" font-size="7.1px">BLU-RED</text>
<text transform="translate(759.2,496.9) scale(1.06,1)" text-anchor="end" font-size="7.1px">YEL</text>
<text transform="translate(759.2,507.4) scale(1.06,1)" text-anchor="end" font-size="7.1px">WHT</text>
<text transform="translate(759.2,528.5) scale(1.06,1)" text-anchor="end" font-size="7.1px">GRN</text>
<text transform="translate(796.7,554.9) scale(1.06,1)" text-anchor="middle" font-size="7.1px">DIGIFANT</text>
<text transform="translate(796.7,563.2) scale(1.06,1)" text-anchor="middle" font-size="7.1px">CONTROL</text>
<text transform="translate(796.7,571.4) scale(1.06,1)" text-anchor="middle" font-size="7.1px">UNIT</text>
<polyline points="765.0,352.5 627.2,352.5 627.2,731.0 701.0,731.0" stroke-width="1.5" />
<polyline points="765.0,405.2 714.0,405.2" stroke-width="1.5" />
<path d="M713.0,402.2 q-1.6,1 -0.6,3 q1.2,2 -0.6,3.4" stroke-width="1.0" fill="none"/>
<text transform="translate(705.6,407.7) scale(1.06,1)" text-anchor="end" font-size="7.1px">BATTERY (GND)</text>
<polyline points="765.0,436.8 712.3,436.8" stroke-width="1.5" />
<rect x="701.8" y="431.6" width="10.5" height="10.4" stroke-width="1.1" fill="#fff"/>
<text transform="translate(695.3,434.1) scale(1.06,1)" text-anchor="end" font-size="7.1px">NOT</text>
<text transform="translate(695.3,442.0) scale(1.06,1)" text-anchor="end" font-size="7.1px">USED</text>
<polyline points="765.0,479.0 712.3,479.0" stroke-width="1.5" />
<rect x="701.8" y="473.8" width="10.5" height="10.4" stroke-width="1.1" fill="#fff"/>
<text transform="translate(695.3,476.4) scale(1.06,1)" text-anchor="end" font-size="7.1px">NOT</text>
<text transform="translate(695.3,484.4) scale(1.06,1)" text-anchor="end" font-size="7.1px">USED</text>
<polyline points="765.0,457.9 637.6,457.9 637.6,720.8 701.0,720.8" stroke-width="1.5" />
<polyline points="765.0,468.4 669.5,468.4" stroke-width="1.5" />
<circle cx="669.5" cy="468.4" r="2.4" fill="#111" stroke="none"/>
<polyline points="667.7,464.4 667.7,472.4" stroke-width="1.2" />
<polyline points="665.7,465.8 665.7,471.0" stroke-width="0.9" />
<polyline points="664.0,467.2 664.0,469.6" stroke-width="0.8" />
<polyline points="765.0,500.0 722.7,500.0" stroke-width="1.5" />
<polyline points="765.0,510.6 722.7,510.6" stroke-width="1.5" />
<circle cx="722.5" cy="505.3" r="7.8" stroke-width="2.0" fill="#fff"/>
<circle cx="722.7" cy="500.0" r="2.3" fill="#111" stroke="none"/>
<circle cx="722.7" cy="510.6" r="2.3" fill="#111" stroke="none"/>
<text transform="translate(705.6,501.9) scale(1.06,1)" text-anchor="end" font-size="7.1px">IDLE</text>
<text transform="translate(705.6,510.0) scale(1.06,1)" text-anchor="end" font-size="7.1px">STABILIZER</text>
<text transform="translate(705.6,518.0) scale(1.06,1)" text-anchor="end" font-size="7.1px">VALVE</text>
<polyline points="765.0,531.7 659.0,531.7 659.0,648.0 765.0,648.0" stroke-width="1.5" />
<rect x="775.0" y="584.3" width="42.7" height="73.4" stroke-width="1.25" fill="#fff"/>
<rect x="765.0" y="590.0" width="10.0" height="10.5" stroke-width="1.25" fill="#fff"/>
<text transform="translate(770.0,598.0) scale(1.06,1)" text-anchor="middle" font-size="7.0px">1</text>
<rect x="765.0" y="600.6" width="10.0" height="10.5" stroke-width="1.25" fill="#fff"/>
<text transform="translate(770.0,608.6) scale(1.06,1)" text-anchor="middle" font-size="7.0px">2</text>
<rect x="765.0" y="611.1" width="10.0" height="10.5" stroke-width="1.25" fill="#fff"/>
<text transform="translate(770.0,619.1) scale(1.06,1)" text-anchor="middle" font-size="7.0px">3</text>
<rect x="765.0" y="621.6" width="10.0" height="10.5" stroke-width="1.25" fill="#fff"/>
<text transform="translate(770.0,629.6) scale(1.06,1)" text-anchor="middle" font-size="7.0px">4</text>
<rect x="765.0" y="632.2" width="10.0" height="10.5" stroke-width="1.25" fill="#fff"/>
<text transform="translate(770.0,640.2) scale(1.06,1)" text-anchor="middle" font-size="7.0px">5</text>
<rect x="765.0" y="642.7" width="10.0" height="10.5" stroke-width="1.25" fill="#fff"/>
<text transform="translate(770.0,650.7) scale(1.06,1)" text-anchor="middle" font-size="7.0px">6</text>
<text transform="translate(759.2,592.2) scale(1.06,1)" text-anchor="end" font-size="7.1px">RED-BLK</text>
<text transform="translate(759.2,602.7) scale(1.06,1)" text-anchor="end" font-size="7.1px">BRN-WHT</text>
<text transform="translate(759.2,623.8) scale(1.06,1)" text-anchor="end" font-size="7.1px">BLK</text>
<text transform="translate(759.2,644.9) scale(1.06,1)" text-anchor="end" font-size="7.1px">GRN</text>
<polyline points="765.0,595.3 606.0,595.3 606.0,804.0 754.3,804.0 764.5,815.0" stroke-width="1.5" />
<polyline points="765.0,605.8 714.0,605.8" stroke-width="1.5" />
<path d="M713.0,602.8 q-1.6,1 -0.6,3 q1.2,2 -0.6,3.4" stroke-width="1.0" fill="none"/>
<text transform="translate(705.3,602.6) scale(1.06,1)" text-anchor="end" font-size="7.1px">BATTERY</text>
<text transform="translate(705.3,610.4) scale(1.06,1)" text-anchor="end" font-size="7.1px">(GND)</text>
<polyline points="765.0,626.9 595.3,626.9 595.3,836.3 765.0,836.3" stroke-width="1.5" />
<text transform="translate(789.3,671.6) scale(1.06,1)" text-anchor="middle" font-size="7.1px">HALL IGNITION</text>
<text transform="translate(789.3,679.1) scale(1.06,1)" text-anchor="middle" font-size="7.1px">CONTROL UNIT</text>
<rect x="711.7" y="700.0" width="36.3" height="42.3" stroke-width="1.25" fill="#fff"/>
<rect x="701.0" y="705.5" width="10.7" height="10.5" stroke-width="1.25" fill="#fff"/>
<text transform="translate(706.4,713.5) scale(1.06,1)" text-anchor="middle" font-size="7.0px">1</text>
<rect x="701.0" y="716.0" width="10.7" height="10.5" stroke-width="1.25" fill="#fff"/>
<text transform="translate(706.4,724.0) scale(1.06,1)" text-anchor="middle" font-size="7.0px">2</text>
<rect x="701.0" y="726.5" width="10.7" height="10.5" stroke-width="1.25" fill="#fff"/>
<text transform="translate(706.4,734.5) scale(1.06,1)" text-anchor="middle" font-size="7.0px">3</text>
<text transform="translate(719.5,713.2) scale(1.06,1)" text-anchor="middle" font-size="7.1px">-</text>
<text transform="translate(719.5,723.6) scale(1.06,1)" text-anchor="middle" font-size="7.1px">o</text>
<text transform="translate(719.5,734.2) scale(1.06,1)" text-anchor="middle" font-size="7.1px">+</text>
<text transform="translate(695.0,707.1) scale(1.06,1)" text-anchor="end" font-size="7.1px">BRN-WHT</text>
<text transform="translate(695.0,717.6) scale(1.06,1)" text-anchor="end" font-size="7.1px">GRN-WHT</text>
<text transform="translate(695.0,728.2) scale(1.06,1)" text-anchor="end" font-size="7.1px">RED-BLK</text>
<text transform="translate(737.7,754.9) scale(1.06,1)" text-anchor="end" font-size="7.1px">HALL</text>
<text transform="translate(737.7,762.6) scale(1.06,1)" text-anchor="end" font-size="7.1px">GENERATOR</text>
<circle cx="775.0" cy="726.7" r="38" stroke-width="1.4" fill="#fff"/>
<circle cx="775.0" cy="701.0" r="6.4" stroke-width="1.6" fill="#fff"/>
<circle cx="748.7" cy="726.7" r="6.4" stroke-width="1.6" fill="#fff"/>
<circle cx="801.7" cy="726.7" r="6.4" stroke-width="1.6" fill="#fff"/>
<circle cx="775.0" cy="752.3" r="6.4" stroke-width="1.6" fill="#fff"/>
<circle cx="775.0" cy="726.7" r="6.4" stroke-width="1.6" fill="#fff"/>
<polyline points="770.5,731.5 734.3,783.3 668.7,783.3 668.7,825.8 765.0,825.8" stroke-width="1.5" />
<text transform="translate(775.0,775.9) scale(1.06,1)" text-anchor="middle" font-size="7.1px">DISTRIBUTOR</text>
<text transform="translate(775.0,786.1) scale(1.06,1)" text-anchor="middle" font-size="7.1px">FIRING ORDER</text>
<text transform="translate(775.0,794.6) scale(1.06,1)" text-anchor="middle" font-size="7.1px">1-3-4-2</text>
<path d="M764.7,813 L795.6,813 Q797.6,812.8 798,811.4 L798,840.6 Q797.6,839.2 795.6,838 L764.7,838 L764.7,835.6 C766,835.2 769.8,834 769.5,831.2 C769.3,828.6 762,829 761.8,825.3 C762,821.8 769.3,822 769.5,819.4 C769.8,816.6 766,816 764.7,815.4 Z" stroke-width="1.3" fill="#fff"/>
<polyline points="779.0,815.4 796.0,815.4 796.0,836.4 779.0,836.4" stroke-width="1.0" stroke-dasharray="2,2.2"/>
<polyline points="771.4,821.5 771.4,831.0" stroke-width="0.9" stroke-dasharray="1.5,2.5"/>
<rect x="771.6" y="816.3" width="4.6" height="3.5" stroke-width="1.2" fill="#111"/>
<rect x="772.0" y="832.2" width="4.4" height="4.0" stroke-width="1.5" fill="none"/>
<text transform="translate(747.7,801.9) scale(1.06,1)" text-anchor="end" font-size="7.1px">RED-BLK</text>
<text transform="translate(747.7,812.6) scale(1.06,1)" text-anchor="end" font-size="7.1px">RED-BLK</text>
<text transform="translate(747.7,823.3) scale(1.06,1)" text-anchor="end" font-size="7.1px">NCA</text>
<text transform="translate(747.7,833.4) scale(1.06,1)" text-anchor="end" font-size="7.1px">BLK</text>
<text transform="translate(747.7,844.3) scale(1.06,1)" text-anchor="end" font-size="7.1px">BLK</text>
<text transform="translate(780.0,854.9) scale(1.06,1)" text-anchor="middle" font-size="7.1px">IGNITION</text>
<text transform="translate(780.0,862.6) scale(1.06,1)" text-anchor="middle" font-size="7.1px">COIL</text>
</g>
</svg>
</body></html>
